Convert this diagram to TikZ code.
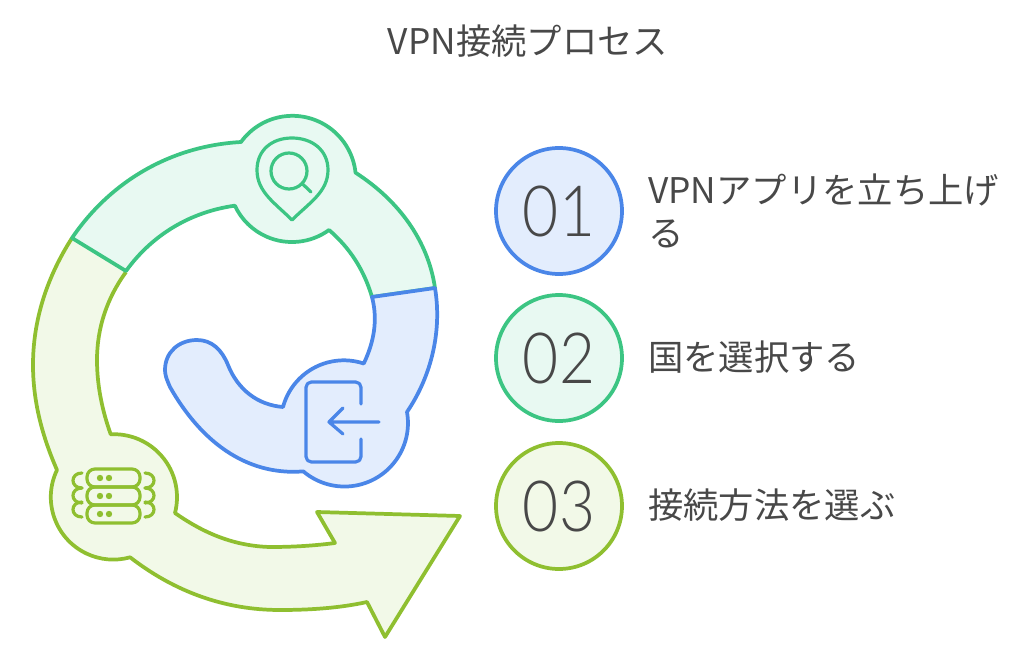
\documentclass[tikz,border=0pt]{standalone}
\usepackage{fontspec}
\setmainfont{Noto Sans CJK JP}
\newfontfamily\numfont[FakeStretch=0.88]{Lato Light}
\usepackage{xcolor}
\definecolor{bluefill}{HTML}{E3EDFD}
\definecolor{blueline}{HTML}{4A86E8}
\definecolor{greenfill}{HTML}{E8F9F2}
\definecolor{greenline}{HTML}{3CC583}
\definecolor{limefill}{HTML}{F2F9E8}
\definecolor{limeline}{HTML}{8FBF30}
\definecolor{inktext}{HTML}{484848}
\tikzset{
    band/.style={line width=2.8pt, line join=round},
    icon/.style={line width=2.4pt, line cap=round, line join=round},
    numdisc/.style={circle, minimum size=94.5pt, line width=2.8pt, inner sep=0pt, font=\numfont\fontsize{53}{53}\selectfont, text=inktext},
    label/.style={anchor=west, inner sep=0pt, align=left, text=inktext, font=\fontsize{26.5}{32}\selectfont}
}
\begin{document}
\begin{tikzpicture}[x=0.75pt, y=-0.75pt]
    \useasboundingbox (0,0) rectangle (1024,660);

    % title
    \node[text=inktext, font=\fontsize{26.5}{32}\selectfont, inner sep=0pt] (title) at (528,41) {VPN接続プロセス};

    % lime band with arrow head
    \draw[band, draw=limeline, fill=limefill] (72,238)
        .. controls (47,277) and (33,320) .. (33,365)
        .. controls (33,403) and (43,438) .. (57,470)
        arc[start angle=205.7, end angle=74.4, radius=62.5]
        .. controls (175,592) and (225,610) .. (280,610)
        .. controls (310,610) and (340,608) .. (367,602)
        -- (385,637) -- (460,516) -- (317,512) -- (335,543)
        .. controls (312,546) and (290,547) .. (270,547)
        .. controls (235,546) and (205,534) .. (175,513)
        arc[start angle=14.5, end angle=-93, radius=63]
        .. controls (102,410) and (97,385) .. (97,360)
        .. controls (97,328) and (107,298) .. (126,272);
    % green band
    \draw[band, draw=greenline, fill=greenfill] (72,238)
        .. controls (110,182) and (170,146) .. (241,142)
        arc[start angle=216, end angle=354, radius=63.5]
        .. controls (398,200) and (428,240) .. (435,288)
        -- (372,297)
        .. controls (364,270) and (350,248) .. (329,230)
        arc[start angle=54, end angle=155, radius=63]
        .. controls (190,212) and (152,235) .. (126,271)
        -- cycle;
    % blue band
    \draw[band, draw=blueline, fill=bluefill] (435,288)
        .. controls (442,330) and (432,375) .. (407,412)
        arc[start angle=-10, end angle=130.4, radius=63.5]
        .. controls (245,476) and (200,440) .. (170,387)
        .. controls (166,378) and (165,374) .. (165,370)
        .. controls (165,352) and (179,340) .. (197,340)
        .. controls (212,340) and (222,350) .. (228,365)
        .. controls (238,390) and (258,405) .. (283,407)
        arc[start angle=195, end angle=288.4, radius=63]
        .. controls (374,342) and (378,320) .. (372,297)
        -- cycle;

    % search pin
    \draw[icon, draw=greenline] (292,220)
        .. controls (275,203) and (257,192) .. (257,170)
        .. controls (257,150) and (272,138) .. (292,138)
        .. controls (312,138) and (328,150) .. (328,170)
        .. controls (328,192) and (309,203) .. (292,220) -- cycle;
    \node[icon, draw=greenline, circle, minimum size=27pt, inner sep=0pt] (lens) at (289,171) {};
    \coordinate (handle) at (311,192);
    \draw[icon, draw=greenline] (lens) -- (handle);

    % exit box
    \draw[icon, draw=blueline, rounded corners=4pt] (361,404) -- (361,382) -- (306,382) -- (306,462) -- (361,462) -- (361,439);
    \draw[icon, draw=blueline] (379,422) -- (329,422) (343,408) -- (329,422) -- (343,434);

    % server stack
    \foreach \y in {469,487,505} {
        \draw[icon, draw=limeline, rounded corners=6pt] (87,\y) rectangle (140,{\y+18});
        \fill[limeline] (100,{\y+9}) circle (2.4pt) (109,{\y+9}) circle (2.4pt);
    }
    \foreach \y in {473,488,502} {
        \draw[icon, draw=limeline] (82,\y) .. controls (70,\y) and (70,{\y+15}) .. (82,{\y+15});
        \draw[icon, draw=limeline] (145,\y) .. controls (157,\y) and (157,{\y+15}) .. (145,{\y+15});
    }

    % numbered discs
    \node[numdisc, draw=blueline, fill=bluefill] (one) at (559,211) {01};
    \node[numdisc, draw=greenline, fill=greenfill] (two) at (559,358) {02};
    \node[numdisc, draw=limeline, fill=limefill] (three) at (559,506) {03};

    \node[label] (textone) at (648,211) {VPNアプリを立ち上げ\\る};
    \node[label] (texttwo) at (648,357) {国を選択する};
    \node[label] (textthree) at (648,505) {接続方法を選ぶ};
\end{tikzpicture}
\end{document}
